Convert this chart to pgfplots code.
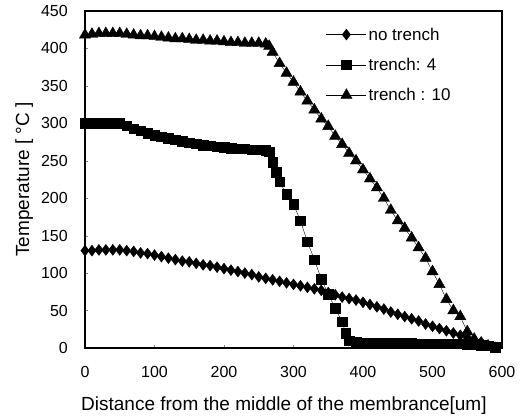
\documentclass[border=0pt]{standalone}
\usepackage{pgfplots}
\pgfplotsset{compat=1.18}
\usepackage{fontspec}
\setmainfont{Liberation Sans}
\begin{document}
\begin{tikzpicture}[x=1bp,y=1bp]
\begin{axis}[
  scale only axis,
  width=417bp, height=337bp,
  xmin=0, xmax=600, ymin=0, ymax=450,
  xtick={0,100,...,600}, ytick={0,50,...,450},
  tick align=inside, major tick length=3bp,
  tick pos=left,
  axis line style={line width=1.2pt},
  /pgf/number format/assume math mode=true,
  tick label style={font=\fontsize{16bp}{19bp}\selectfont, inner sep=0pt},
  label style={font=\fontsize{19bp}{22bp}\selectfont},
  xlabel={Distance from the middle of the membrance[um]},
  ylabel={Temperature [ °C ]},
  xticklabel style={anchor=center, yshift=-24bp},
  yticklabel style={anchor=east, xshift=-17bp},
  xlabel style={at={(axis description cs:0.477,-0.172)}, anchor=center},
  ylabel style={at={(axis description cs:-0.146,0.5)}, anchor=center},
  legend style={draw=none, fill=none, at={(0.578,0.957)}, anchor=north west,
    font=\fontsize{17bp}{20bp}\selectfont, row sep=12.5bp, inner sep=0pt},
  legend cell align=left,
  legend image code/.code={\draw[mark repeat=2,mark phase=2] plot coordinates {(0bp,0bp) (20bp,0bp) (40bp,0bp)};},
]
\addplot[black, thin, mark=diamond*, mark size=5.5bp] coordinates {
(0,130)(10,130)(20,131)(30,131)(40,131)(50,131)(60,130)(70,129)(80,127)(90,126)
(100,124)(110,122)(120,120)(130,118)(140,116)(150,115)(160,113)(170,111)(180,110)(190,108)
(200,106)(210,104)(220,102)(230,100)(240,98)(250,95)(260,93)(270,91)(280,89)(290,87)
(300,85)(310,83)(320,81)(330,79)(340,77)(350,74)(360,71)(370,68)(380,66)(390,64)
(400,61)(410,58)(420,55)(430,52)(440,48)(450,45)(460,42)(470,39)(480,36)(490,32)
(500,29)(510,26)(520,23)(530,20)(540,17)(550,14)(560,11)(570,8)(580,4)(590,1)
};
\addlegendentry{no trench}
\addplot[black, thin, mark=square*, mark size=4.8bp] coordinates {
(0,300)(10,300)(20,300)(30,300)(40,300)(50,300)(60,297)(70,293)(80,290)(90,287)
(100,284)(110,282)(120,280)(130,278)(140,276)(150,274)(160,273)(170,271)(180,270)(190,269)
(200,268)(210,267)(220,266)(230,266)(240,265)(250,265)(260,264)(265,262)(270,248)(275,235)
(280,222)(290,205)(300,192)(310,170)(320,142)(330,118)(340,92)(350,72)(360,53)(370,35)(375,20)
(380,10)(390,8)(400,7)(410,7)(420,7)(430,7)(440,7)(450,7)(460,7)(470,7)
(480,6)(490,6)(500,6)(510,6)(520,6)(530,6)(540,6)(550,5)(560,5)(570,4)(580,3)(590,1)
};
\addlegendentry{trench: 4}
\addplot[black, thin, mark=triangle*, mark size=6.5bp] coordinates {
(0,418)(10,419)(20,420)(30,420)(40,420)(50,420)(60,419)(70,418)(80,417)(90,417)
(100,416)(110,415)(120,414)(130,413)(140,413)(150,412)(160,411)(170,411)(180,410)(190,410)
(200,409)(210,408)(220,408)(230,407)(240,407)(250,407)(260,406)(265,403)(270,395)(280,380)
(290,367)(300,355)(310,342)(320,330)(330,318)(340,306)(350,296)(360,283)(370,272)(380,260)
(390,250)(400,238)(410,226)(420,214)(430,200)(440,184)(450,170)(460,160)(470,147)(480,134)
(490,120)(500,102)(510,85)(520,65)(530,50)(540,42)(550,22)(560,12)(570,4)(580,1)
};
\addlegendentry{trench : 10}
\end{axis}
\pgfresetboundingbox
\path (-85bp,-71bp) rectangle (438bp,348bp);
\end{tikzpicture}
\end{document}
